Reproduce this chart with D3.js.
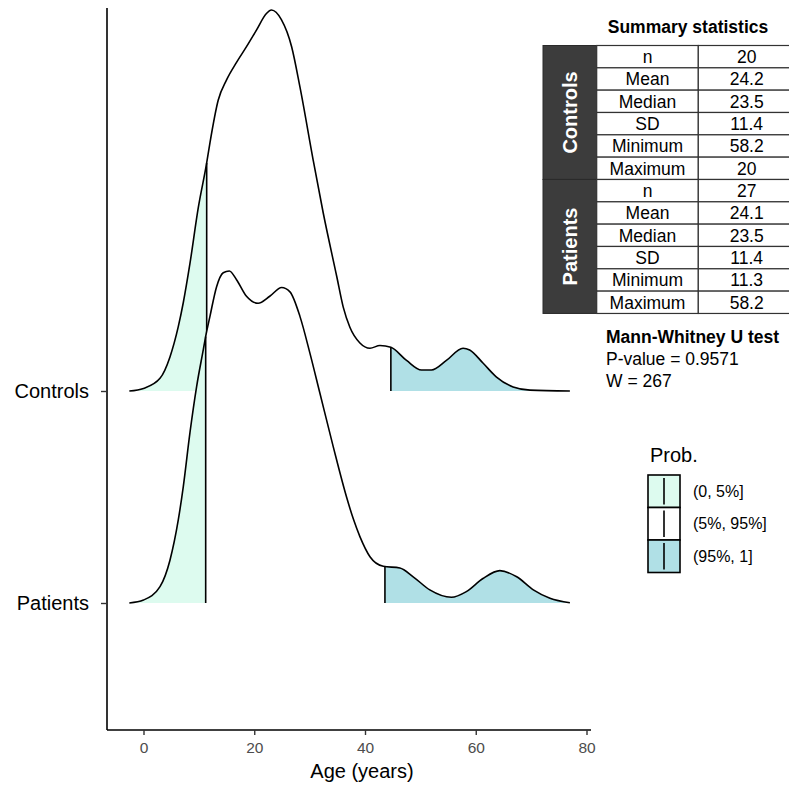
<!DOCTYPE html>
<html>
<head>
<meta charset="utf-8">
<script src="https://cdn.jsdelivr.net/npm/d3@7"></script>
<style>
  html, body { margin: 0; padding: 0; background: #fff; }
  svg { display: block; font-family: "Liberation Sans", Arial, sans-serif; }
</style>
</head>
<body>
<svg id="chart" width="789" height="791"></svg>
<script>
// ---- data ----------------------------------------------------------------
const groups = ["Controls", "Patients"];

// kernel density estimates of age, [age, density]
const controlsDensity = [
  [-2.56, 0], [0, 0.0003], [2.98, 0.00145], [4.78, 0.0039], [6.28, 0.00736],
  [7.18, 0.0101], [8.39, 0.0146], [9.9, 0.0210], [11.41, 0.0261],
  [12.0, 0.0284], [13.5, 0.0333], [15.0, 0.0356], [16.8, 0.0376], [18.6, 0.0394],
  [20.4, 0.0413], [22.2, 0.0432], [23.1, 0.0436], [24.9, 0.0425], [26.75, 0.0394],
  [28.25, 0.0348], [30.65, 0.0264], [32.45, 0.0204], [34.9, 0.0131], [36.07, 0.0096],
  [37.27, 0.0073], [39.08, 0.0055], [40.9, 0.0049], [42.7, 0.0052], [44.67, 0.0050],
  [47.5, 0.0035], [50.2, 0.0024], [52.0, 0.0024], [54.7, 0.0035], [57.7, 0.0049],
  [58.9, 0.0047], [61.3, 0.0032], [63.75, 0.0016], [66.75, 0.00046], [69.8, 0.0001],
  [77.0, 0]
];
const patientsDensity = [
  [-2.56, 0], [0, 0.00034], [2.98, 0.00187], [4.78, 0.0049], [6.28, 0.0095],
  [7.18, 0.0133], [8.39, 0.0195], [9.6, 0.0248], [10.8, 0.029], [11.23, 0.0305],
  [12.0, 0.0328], [13.2, 0.0362], [14.4, 0.0378], [15.5, 0.038], [16.8, 0.037],
  [18.6, 0.0351], [20.7, 0.0343], [22.8, 0.0351], [24.95, 0.0361], [26.45, 0.0356],
  [28.25, 0.0328], [30.05, 0.0286], [31.86, 0.024], [34.26, 0.0179], [36.68, 0.0121],
  [37.9, 0.0096], [39.08, 0.0076], [40.9, 0.0053], [43.3, 0.0042], [46.3, 0.004],
  [48.7, 0.003], [51.7, 0.0015], [55.6, 0.00065], [58.3, 0.0013], [61.3, 0.0028],
  [64.35, 0.0037], [67.4, 0.003], [70.4, 0.0015], [73.4, 0.00054], [77.0, 0.00003]
];

// 5% and 95% quantiles of age per group
const controlsQuantiles = [11.41, 44.67];
const patientsQuantiles = [11.23, 43.6];

const xTicks = [0, 20, 40, 60, 80];

const probLabels = ["(0, 5%]", "(5%, 95%]", "(95%, 1]"];
const probColors = ["#DDFBEF", "#FFFFFF", "#B0E0E6"];

const statNames = ["n", "Mean", "Median", "SD", "Minimum", "Maximum"];
const controlsStats = ["20", "24.2", "23.5", "11.4", "58.2", "20"];
const patientsStats = ["27", "24.1", "23.5", "11.4", "11.3", "58.2"];

const testTitle = "Mann-Whitney U test";
const testLines = ["P-value = 0.9571", "W = 267"];

// ---- layout ----------------------------------------------------------------
const svg = d3.select("#chart");
const panel = { left: 107, right: 591, top: 8, bottom: 730 };

const x = d3.scaleLinear().domain([0, 80]).range([143.5, 586.5]);
const y = d3.scalePoint().domain(groups).range([391, 603]);
const h = d3.scaleLinear().domain([0, 0.0436]).range([0, 381]);

const ridges = [
  { name: "Controls", dens: controlsDensity, q: controlsQuantiles },
  { name: "Patients", dens: patientsDensity, q: patientsQuantiles }
];

function densityAt(dens, v) {
  for (let i = 1; i < dens.length; i++) {
    if (dens[i][0] >= v) {
      const [x0, y0] = dens[i - 1], [x1, y1] = dens[i];
      return y0 + (y1 - y0) * (v - x0) / (x1 - x0);
    }
  }
  return 0;
}

const defs = svg.append("defs");
const plot = svg.append("g");

ridges.forEach((r, ri) => {
  const base = y(r.name);
  const area = d3.area()
    .curve(d3.curveMonotoneX)
    .x(d => x(d[0]))
    .y0(base)
    .y1(d => base - h(d[1]));
  const line = d3.line()
    .curve(d3.curveMonotoneX)
    .x(d => x(d[0]))
    .y(d => base - h(d[1]));

  const lo = r.dens[0][0], hi = r.dens[r.dens.length - 1][0];
  const bounds = [lo, r.q[0], r.q[1], hi];
  const g = plot.append("g").attr("class", "ridge");

  for (let k = 0; k < 3; k++) {
    const id = `clip-${ri}-${k}`;
    defs.append("clipPath").attr("id", id)
      .append("rect")
      .attr("x", x(bounds[k]))
      .attr("y", 0)
      .attr("width", x(bounds[k + 1]) - x(bounds[k]))
      .attr("height", 791);
    g.append("path")
      .datum(r.dens)
      .attr("d", area)
      .attr("clip-path", `url(#${id})`)
      .attr("fill", probColors[k]);
  }

  g.append("path")
    .datum(r.dens)
    .attr("d", line)
    .attr("fill", "none")
    .attr("stroke", "#000")
    .attr("stroke-width", 1.6)
    .attr("stroke-linejoin", "round");

  r.q.forEach(qv => {
    g.append("line")
      .attr("x1", x(qv)).attr("x2", x(qv))
      .attr("y1", base).attr("y2", base - h(densityAt(r.dens, qv)))
      .attr("stroke", "#000")
      .attr("stroke-width", 1.6);
  });
});

// ---- axes ----------------------------------------------------------------
const xAxis = svg.append("g")
  .attr("transform", `translate(0,${panel.bottom})`)
  .call(d3.axisBottom(x).tickValues(xTicks).tickSize(5).tickPadding(7).tickSizeOuter(0))
  .attr("font-size", 15.5)
  .attr("font-family", "'Liberation Sans', Arial, sans-serif");
xAxis.select(".domain")
  .attr("d", `M${panel.left},0H${panel.right}`)
  .attr("stroke", "#000").attr("stroke-width", 1.6);
xAxis.selectAll(".tick line").attr("stroke", "#333").attr("stroke-width", 1.4);
xAxis.selectAll(".tick text").attr("fill", "#4D4D4D");

const yAxis = svg.append("g")
  .attr("transform", `translate(${panel.left},0)`)
  .call(d3.axisLeft(y).tickSize(6).tickPadding(12).tickSizeOuter(0))
  .attr("font-size", 20)
  .attr("font-family", "'Liberation Sans', Arial, sans-serif");
yAxis.select(".domain")
  .attr("d", `M0,${panel.top}V${panel.bottom}`)
  .attr("stroke", "#000").attr("stroke-width", 1.6);
yAxis.selectAll(".tick line").attr("stroke", "#333").attr("stroke-width", 1.4);
yAxis.selectAll(".tick text").attr("fill", "#000");

svg.append("text")
  .attr("x", (x(0) + x(80)) / 2 - 3)
  .attr("y", 778)
  .attr("text-anchor", "middle")
  .style("font-size", "20px")
  .text("Age (years)");

// ---- legend ----------------------------------------------------------------
const legend = svg.append("g").attr("transform", "translate(648,475)");
legend.append("text")
  .attr("x", 2).attr("y", -13)
  .style("font-size", "20px")
  .text("Prob.");
const keyW = 32, keyH = 32.5;
probLabels.forEach((lab, i) => {
  const ky = i * keyH;
  legend.append("rect")
    .attr("x", 0).attr("y", ky)
    .attr("width", keyW).attr("height", keyH)
    .attr("fill", probColors[i])
    .attr("stroke", "#000").attr("stroke-width", 1.6);
  legend.append("line")
    .attr("x1", keyW / 2).attr("x2", keyW / 2)
    .attr("y1", ky + 3).attr("y2", ky + keyH - 3)
    .attr("stroke", "#000").attr("stroke-width", 1.6);
  legend.append("text")
    .attr("x", 45).attr("y", ky + keyH / 2)
    .attr("dy", "0.35em")
    .style("font-size", "16px")
    .text(lab);
});

// ---- summary table -------------------------------------------------------
const tbl = { left: 543, groupRight: 596.7, mid: 698.3, right: 795, top: 45.5, rowH: 22.33 };
svg.append("text")
  .attr("x", 688).attr("y", 33)
  .attr("text-anchor", "middle")
  .style("font-size", "17.5px").style("font-weight", "bold")
  .text("Summary statistics");

const table = svg.append("g");
[controlsStats, patientsStats].forEach((vals, gi) => {
  const gTop = tbl.top + gi * 6 * tbl.rowH;
  table.append("rect")
    .attr("x", tbl.left).attr("y", gTop)
    .attr("width", tbl.groupRight - tbl.left).attr("height", 6 * tbl.rowH)
    .attr("fill", "#3C3C3C")
    .attr("stroke", "#2a2a2a").attr("stroke-width", 1);
  const cy = gTop + 3 * tbl.rowH;
  const cx = (tbl.left + tbl.groupRight) / 2;
  table.append("text")
    .attr("transform", `translate(${cx},${cy}) rotate(-90)`)
    .attr("text-anchor", "middle").attr("dy", "0.35em")
    .attr("fill", "#fff")
    .style("font-size", "20px").style("font-weight", "bold")
    .text(groups[gi]);
  vals.forEach((v, i) => {
    const ry = gTop + i * tbl.rowH;
    table.append("rect")
      .attr("x", tbl.groupRight).attr("y", ry)
      .attr("width", tbl.mid - tbl.groupRight).attr("height", tbl.rowH)
      .attr("fill", "#fff").attr("stroke", "#333").attr("stroke-width", 1.2);
    table.append("rect")
      .attr("x", tbl.mid).attr("y", ry)
      .attr("width", tbl.right - tbl.mid).attr("height", tbl.rowH)
      .attr("fill", "#fff").attr("stroke", "#333").attr("stroke-width", 1.2);
    table.append("text")
      .attr("x", (tbl.groupRight + tbl.mid) / 2).attr("y", ry + tbl.rowH / 2)
      .attr("dy", "0.36em").attr("text-anchor", "middle")
      .style("font-size", "17.5px")
      .text(statNames[i]);
    table.append("text")
      .attr("x", 746.7).attr("y", ry + tbl.rowH / 2)
      .attr("dy", "0.36em").attr("text-anchor", "middle")
      .style("font-size", "17.5px")
      .text(v);
  });
});

// ---- test result ---------------------------------------------------------
svg.append("text")
  .attr("x", 606).attr("y", 343)
  .style("font-size", "17.5px").style("font-weight", "bold")
  .text(testTitle);
testLines.forEach((t, i) => {
  svg.append("text")
    .attr("x", 606).attr("y", 365 + i * 22)
    .style("font-size", "17.5px")
    .text(t);
});
</script>
</body>
</html>
